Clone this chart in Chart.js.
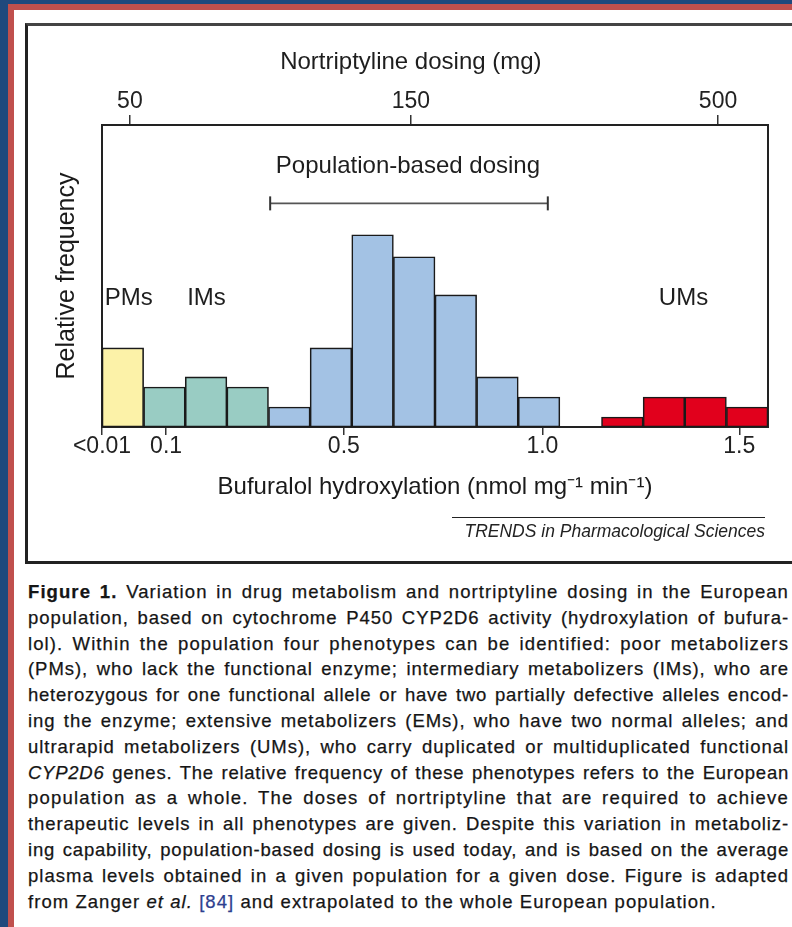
<!DOCTYPE html>
<html>
<head>
<meta charset="utf-8">
<script src="https://cdn.jsdelivr.net/npm/chart.js@4.4.1/dist/chart.umd.min.js"></script>
<style>
  html, body { margin: 0; padding: 0; width: 792px; height: 927px; overflow: hidden; background: #fff; }
  .layer { position: absolute; right: -50px; bottom: -50px; }
  #blue { left: 0; top: 0; background: #1F497D; }
  #red { left: 8px; top: 4px; background: #C0504D; }
  #white { left: 14px; top: 10px; background: #fff; }
  #box { position: absolute; left: 25px; top: 23px; width: 820px; height: 535px; border: 3px solid #222; border-right: none; border-top-color: #444; }
  #wrap { position: absolute; left: 30px; top: 27px; width: 762px; height: 530px; }
  #credit { position: absolute; left: 452px; top: 517px; width: 313px; border-top: 1.5px solid #222;
            font: italic 17.5px "Liberation Sans", Arial, sans-serif; color: #222; text-align: right; padding-top: 3px; white-space: nowrap; }
  #caption { position: absolute; left: 28px; top: 579px; width: 761px; font: 18.5px "Liberation Sans", Arial, sans-serif; color: #151515;
             -webkit-text-stroke: 0.25px #151515; }
  #caption .l { height: 25.8px; line-height: 25.8px; white-space: nowrap; text-align: justify; text-align-last: justify; }
  #caption .last { text-align-last: left; letter-spacing: 1.05px; }
  #caption .ref { color: #2E3F8F; -webkit-text-stroke-color: #2E3F8F; }
</style>
</head>
<body>
<div id="blue" class="layer"></div>
<div id="red" class="layer"></div>
<div id="white" class="layer"></div>
<div id="box"></div>
<div id="wrap"><canvas id="c"></canvas></div>
<div id="credit">TRENDS in Pharmacological Sciences</div>
<div id="caption">
  <div class="l"><span><b>Figure 1.</b> Variation in drug metabolism and nortriptyline dosing in the European</span></div>
  <div class="l"><span>population, based on cytochrome P450 CYP2D6 activity (hydroxylation of bufura-</span></div>
  <div class="l"><span>lol). Within the population four phenotypes can be identified: poor metabolizers</span></div>
  <div class="l"><span>(PMs), who lack the functional enzyme; intermediary metabolizers (IMs), who are</span></div>
  <div class="l"><span>heterozygous for one functional allele or have two partially defective alleles encod-</span></div>
  <div class="l"><span>ing the enzyme; extensive metabolizers (EMs), who have two normal alleles; and</span></div>
  <div class="l"><span>ultrarapid metabolizers (UMs), who carry duplicated or multiduplicated functional</span></div>
  <div class="l"><span><i>CYP2D6</i> genes. The relative frequency of these phenotypes refers to the European</span></div>
  <div class="l"><span>population as a whole. The doses of nortriptyline that are required to achieve</span></div>
  <div class="l"><span>therapeutic levels in all phenotypes are given. Despite this variation in metaboliz-</span></div>
  <div class="l"><span>ing capability, population-based dosing is used today, and is based on the average</span></div>
  <div class="l"><span>plasma levels obtained in a given population for a given dose. Figure is adapted</span></div>
  <div class="l last"><span>from Zanger <i>et al.</i> <span class="ref">[84]</span> and extrapolated to the whole European population.</span></div>
</div>
<script>
// ---- data (x in histogram-bin units: bin i spans [i, i+1]) ----
const binValues = [7.9, 4.0, 5.0, 4.0, 2.0, 7.9, 19.2, 17.0, 13.2, 5.0, 3.0, 0, 1.0, 3.0, 3.0, 2.0];
const binGroups = ['PMs','IMs','IMs','IMs','EMs','EMs','EMs','EMs','EMs','EMs','EMs','', 'UMs','UMs','UMs','UMs'];
const groupColors = { PMs: '#FCF2A8', IMs: '#99CCC3', EMs: '#A3C2E4', UMs: '#E1001C', '': 'rgba(0,0,0,0)' };

const bottomTickPos = [0, 1.54, 5.81, 10.58, 15.31];
const bottomTickLabels = ['<0.01', '0.1', '0.5', '1.0', '1.5'];
const topTickPos = [0.67, 7.42, 14.8];
const topTickLabels = ['50', '150', '500'];
const topTitle = 'Nortriptyline dosing (mg)';

const popDosingRange = [4.04, 10.71];
const popDosingLevel = 22.34;

const textLabels = ['PMs', 'IMs', 'UMs', 'Population-based dosing'];
const textLabelX = [0.64, 2.51, 13.97, 7.35];
const textLabelY = [12.87, 12.87, 12.87, 26.07];

const yMax = 30.17;
const xMin = 0, xMax = 16;

// caption: spread letters a little (the source type is tracked), leave the rest to justification
document.querySelectorAll('#caption .l:not(.last)').forEach(line => {
  const span = line.firstElementChild;
  line.style.textAlignLast = 'left';
  const w = span.getBoundingClientRect().width;
  const n = span.textContent.length;
  const ls = Math.max(0.2, Math.min(1.2, (761 - w) / n * 0.75));
  line.style.letterSpacing = ls + 'px';
  line.style.textAlignLast = 'justify';
});

Chart.defaults.font.family = '"Liberation Sans", Arial, sans-serif';
Chart.defaults.color = '#222';

const textPlugin = {
  id: 'textLabels',
  afterDatasetsDraw(chart) {
    const { ctx, scales: { x, y, x2 } } = chart;
    ctx.save();
    ctx.font = '24px "Liberation Sans", Arial, sans-serif';
    ctx.fillStyle = '#1e1e1e';
    ctx.textAlign = 'center';
    ctx.textBaseline = 'middle';
    textLabels.forEach((t, i) => ctx.fillText(t, x.getPixelForValue(textLabelX[i]), y.getPixelForValue(textLabelY[i])));
    // top axis title, centred over the middle (150 mg) tick
    ctx.fillText(topTitle, x2.getPixelForValue(topTickPos[1]), x2.top + 35);
    ctx.restore();
  }
};

const tickFont = { size: 23, lineHeight: 1 };

new Chart(document.getElementById('c'), {
  type: 'bar',
  data: {
    datasets: [
      {
        type: 'line',
        data: popDosingRange.map(v => ({ x: v, y: popDosingLevel })),
        borderColor: '#555',
        borderWidth: 1.6,
        pointStyle: 'line',
        pointRotation: 90,
        pointRadius: 7,
        pointBorderWidth: 2,
        pointBorderColor: '#333',
        pointHoverRadius: 7,
        order: 0
      },
      {
        type: 'bar',
        data: binValues.map((v, i) => ({ x: i + 0.5, y: v })),
        backgroundColor: binGroups.map(g => groupColors[g]),
        borderColor: '#1a1a1a',
        borderWidth: 1.6,
        borderSkipped: false,
        barPercentage: 1,
        categoryPercentage: 1,
        order: 1
      }
    ]
  },
  options: {
    responsive: true,
    maintainAspectRatio: false,
    animation: false,
    events: [],
    layout: { padding: { left: 0, right: 0, top: 0, bottom: 55 } },
    plugins: { legend: { display: false }, tooltip: { enabled: false } },
    scales: {
      x: {
        type: 'linear', position: 'bottom', min: xMin, max: xMax, offset: false,
        afterBuildTicks: s => { s.ticks = bottomTickPos.map(v => ({ value: v })); },
        afterFit: s => { s.height = 75; },
        ticks: { autoSkip: false, maxRotation: 0, minRotation: 0, padding: 0, font: tickFont, color: '#222',
                 callback: (v, i) => bottomTickLabels[i] },
        grid: { display: true, offset: false, drawOnChartArea: false, drawTicks: true, tickLength: 8, color: '#333', lineWidth: 1.5 },
        border: { display: true, color: '#222', width: 2 },
        title: { display: true, text: 'Bufuralol hydroxylation (nmol mg\u207B\u00B9 min\u207B\u00B9)', font: { size: 24 }, color: '#1a1a1a', padding: { top: 0, bottom: 0 } }
      },
      x2: {
        type: 'linear', position: 'top', min: xMin, max: xMax, offset: false,
        afterBuildTicks: s => { s.ticks = topTickPos.map(v => ({ value: v })); },
        afterFit: s => { s.height = 98; },
        ticks: { autoSkip: false, maxRotation: 0, minRotation: 0, padding: 1.5, font: tickFont, color: '#222',
                 callback: (v, i) => topTickLabels[i] },
        grid: { display: true, offset: false, drawOnChartArea: false, drawTicks: true, tickLength: 10, color: '#333', lineWidth: 1.5 },
        border: { display: true, color: '#222', width: 2 },
        title: { display: false }
      },
      y: {
        type: 'linear', position: 'left', min: 0, max: yMax,
        afterFit: s => { s.width = 72; },
        ticks: { display: false },
        grid: { display: false, drawTicks: false },
        border: { display: true, color: '#222', width: 2 },
        title: { display: true, text: 'Relative frequency', font: { size: 25 }, color: '#1a1a1a', padding: { top: 22, bottom: 0 } }
      },
      y2: {
        type: 'linear', position: 'right', min: 0, max: yMax,
        afterFit: s => { s.width = 24; },
        ticks: { display: false },
        grid: { display: false, drawTicks: false },
        border: { display: true, color: '#222', width: 2 }
      }
    }
  },
  plugins: [textPlugin]
});
</script>
</body>
</html>
